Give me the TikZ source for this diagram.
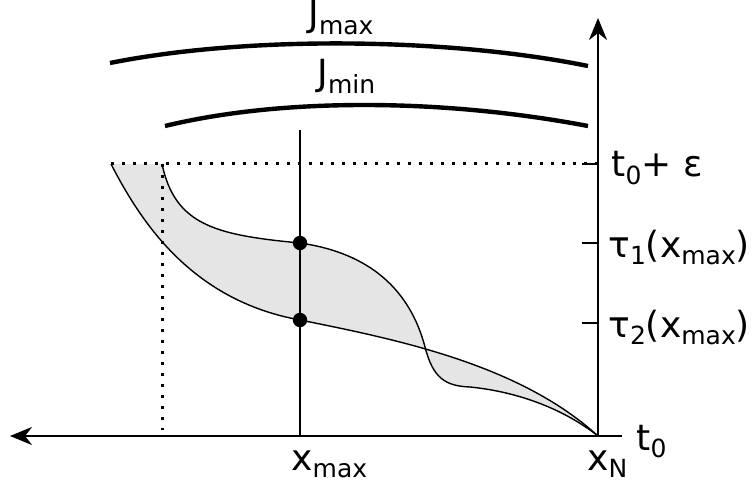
\documentclass[tikz,border=0pt]{standalone}
\usepackage{fontspec}
\setmainfont{DejaVu Sans}
\usetikzlibrary{arrows.meta}
\newcommand{\lo}[1]{\raisebox{-0.2em}{\fontsize{12.5}{13}\selectfont #1}}

\begin{document}
\begin{tikzpicture}[x=0.5pt, y=-0.5pt,
    every node/.style={inner sep=0pt, font=\fontsize{18}{20}\selectfont},
    axis/.style={line width=1.1pt, -{Stealth[length=11pt, width=9pt, inset=3.5pt]}},
    curve/.style={line width=0.7pt},
    level/.style={line width=2.2pt},
    guide/.style={line width=1.5pt, dash pattern=on 1.5pt off 4pt},
    tickline/.style={line width=1.4pt},
    dotpt/.style={circle, fill=black, minimum size=7.2pt}]
    \useasboundingbox (0,0) rectangle (754,486);
    % axes and fixed points
    \coordinate (O) at (598,436);
    \coordinate (xend) at (10,436);
    \coordinate (xright) at (622,436);
    \coordinate (ttop) at (598,18);
    \coordinate (epsL) at (111,164);
    \coordinate (epsM) at (162,164);
    \coordinate (epsR) at (598,164);
    \coordinate (epsB) at (162,430);
    \coordinate (cross) at (425,347);
    \coordinate (xmaxT) at (300,130);
    \coordinate (xmaxB) at (300,436);
    % shaded band between the two curves
    \fill[black!10] (epsM) .. controls (175,225) and (215,235) .. (300,243)
        .. controls (370,253) and (410,290) .. (cross)
        .. controls (433,378) and (445,386) .. (470,387)
        .. controls (520,392) and (565,410) .. (O)
        .. controls (520,365) and (400,340) .. (300,320)
        .. controls (190,300) and (140,220) .. (epsL) -- cycle;
    % dotted guides
    \draw[guide] (epsL) -- (epsR);
    \draw[guide] (epsM) -- (epsB);
    % the two curves
    \draw[curve] (epsM) .. controls (175,225) and (215,235) .. (300,243)
        .. controls (370,253) and (410,290) .. (cross)
        .. controls (433,378) and (445,386) .. (470,387)
        .. controls (520,392) and (565,410) .. (O);
    \draw[curve] (epsL) .. controls (140,220) and (190,300) .. (300,320)
        .. controls (400,340) and (520,365) .. (O);
    % J levels
    \coordinate (jmaxL) at (110,63);
    \coordinate (jmaxR) at (588,66);
    \coordinate (jminL) at (165,126);
    \coordinate (jminR) at (588,126);
    \draw[level] (jmaxL) .. controls (250,35) and (450,38) .. (jmaxR);
    \draw[level] (jminL) .. controls (280,98) and (440,98) .. (jminR);
    \node[anchor=base west] (jmax) at (308,27) {J\lo{max}};
    \node[anchor=base west] (jmin) at (317,86) {J\lo{min}};
    % x_max line and axes
    \draw[line width=0.9pt] (xmaxT) -- (xmaxB);
    \draw[axis] (xright) -- (xend);
    \draw[axis] (O) -- (ttop);
    % ticks
    \coordinate (tk0) at (582,164);
    \coordinate (tk1) at (582,243);
    \coordinate (tk2) at (582,323);
    \draw[tickline] (tk0) -- (epsR);
    \draw[tickline] (tk1) -- (598,243);
    \draw[tickline] (tk2) -- (598,323);
    % points on x_max
    \node[dotpt] (p1) at (300,243) {};
    \node[dotpt] (p2) at (300,320) {};
    % labels
    \node[anchor=base west] (leps) at (611,177) {t\lo{0}+ ε};
    \node[anchor=base west] (ltau1) at (608,257) {τ\lo{1}(x\lo{max})};
    \node[anchor=base west] (ltau2) at (608,337) {τ\lo{2}(x\lo{max})};
    \node[anchor=base west] (lxmax) at (291,470) {x\lo{max}};
    \node[anchor=base west] (lxN) at (587,470) {x\lo{N}};
    \node[anchor=base west] (lt0) at (636,450) {t\lo{0}};
\end{tikzpicture}
\end{document}
